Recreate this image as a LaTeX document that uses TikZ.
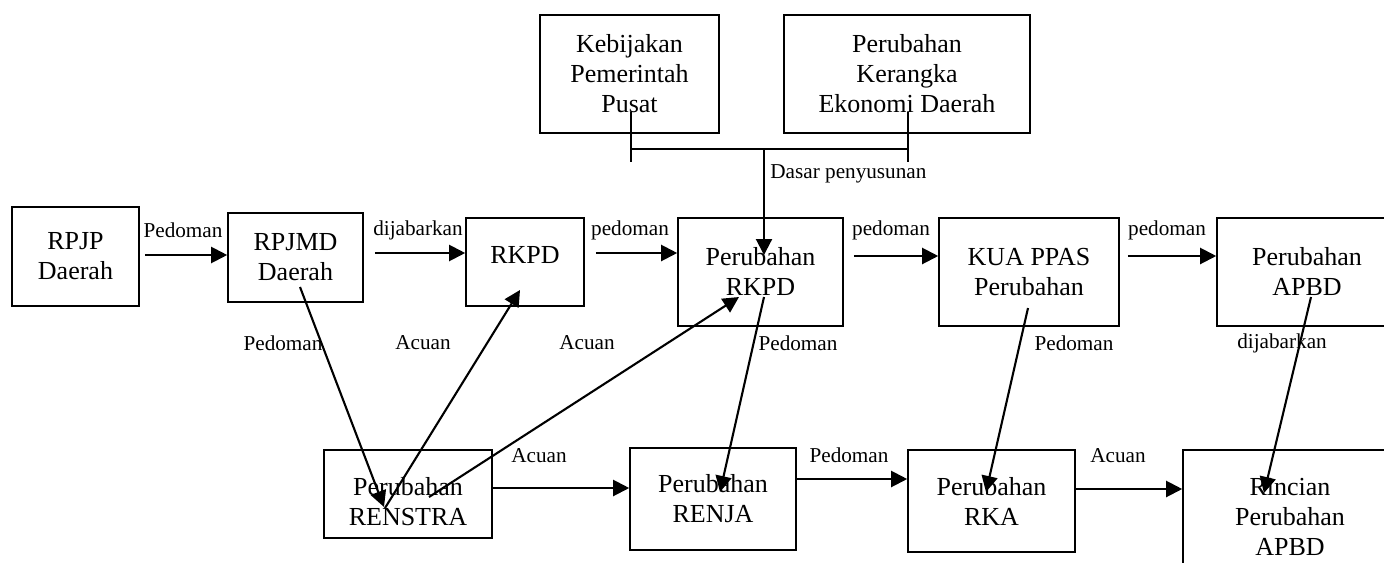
\documentclass[tikz,border=0pt]{standalone}
\usepackage{fontspec}
\setmainfont{Liberation Serif}
\usetikzlibrary{calc, positioning, arrows.meta}
\tikzset{
block/.style 2 args={draw, line width=0.8pt, minimum width=#1, minimum height=#2,
	inner sep=0pt, align=center, font=\fontsize{13}{15}\selectfont},
tag/.style={font=\fontsize{10.6}{12}\selectfont, inner sep=0pt},
flow/.style={line width=1.05pt, -{Triangle[length=8pt, width=8pt]}},
}

\begin{document}
\begin{tikzpicture}[x=0.5pt, y=-0.5pt]
\useasboundingbox (0,0) rectangle (1384,562);
\clip (0,0) rectangle (1384,562);

%Place the nodes
\node[block={89.5pt}{59pt}] (kebijakan) at (629.5,74) {Kebijakan\\Pemerintah\\Pusat};
\node[block={123pt}{59pt}] (kerangka) at (907,74) {Perubahan\\Kerangka\\Ekonomi Daerah};

\node[block={63.5pt}{49.5pt}] (rpjp) at (75.5,256.5) {RPJP\\Daerah};
\node[block={67.5pt}{44.5pt}] (rpjmd) at (295.5,257.5) {RPJMD\\Daerah};
\node[block={59pt}{44pt}, text depth=7pt] (rkpd) at (525,262) {RKPD};
\node[block={82.5pt}{54pt}] (prkpd) at (760.5,272) {Perubahan\\RKPD};
\node[block={90pt}{54pt}] (kua) at (1029,272) {KUA PPAS\\Perubahan};
\node[block={90pt}{54pt}] (apbd) at (1307,272) {Perubahan\\APBD};

\node[block={84pt}{44pt}] (renstra) at (408,494) {\rule{0pt}{17pt}Perubahan\\RENSTRA};
\node[block={83pt}{51pt}] (renja) at (713,499) {Perubahan\\RENJA};
\node[block={83.5pt}{51pt}] (rka) at (991.5,501) {Perubahan\\RKA};
\node[block={107pt}{67pt}] (rincian) at (1290,517) {Rincian\\Perubahan\\APBD};

%Dasar penyusunan
\coordinate (kj) at ($(kebijakan)+(1.5,38)$);
\coordinate (kr) at ($(kerangka)+(1,38)$);
\coordinate (dasar) at (764,149);
\draw[line width=0.65pt] (kj) -- ++(0,50);
\draw[line width=0.65pt] (kr) -- ++(0,50);
\draw[line width=0.65pt] (kj |- dasar) -- (kr |- dasar);
\draw[flow] (dasar) -- ($(prkpd)+(3.5,-17)$);
\node[tag, anchor=west] (ldasar) at (770,174) {Dasar penyusunan};

%Top row
\draw[flow, shorten <=2.5pt] (rpjp.east |- 0,255) -- (rpjmd.west |- 0,255);
\draw[flow, shorten <=5.5pt] (rpjmd.east |- 0,253) -- (rkpd.west |- 0,253);
\draw[flow, shorten <=5.5pt] (rkpd.east |- 0,253) -- (prkpd.west |- 0,253);
\draw[flow, shorten <=5pt] (prkpd.east |- 0,256) -- (kua.west |- 0,256);
\draw[flow, shorten <=4pt] (kua.east |- 0,256) -- (apbd.west |- 0,256);

\node[tag] (l1) at (183,230) {Pedoman};
\node[tag] (l2) at (418,230) {dijabarkan};
\node[tag] (l3) at (630,230) {pedoman};
\node[tag] (l4) at (891,230) {pedoman};
\node[tag] (l5) at (1167,230) {pedoman};

%Down and up
\draw[flow] ($(rpjmd)+(4.5,29.5)$) -- ($(renstra)+(-24,13)$);
\draw[flow] ($(renstra)+(-23,14)$) -- ($(rkpd)+(-5,28)$);
\draw[flow] ($(renstra)+(21,3)$) -- ($(prkpd)+(-21.5,25)$);
\draw[flow] ($(prkpd)+(3.5,25)$) -- ($(renja)+(7,-7)$);
\draw[flow] ($(kua)+(-1,36)$) -- ($(rka)+(-5.5,-9)$);
\draw[flow] ($(apbd)+(4,25)$) -- ($(rincian)+(-26,-24)$);

\node[tag] (l6) at (283,343) {Pedoman};
\node[tag] (l7) at (423,343) {Acuan};
\node[tag] (l8) at (587,343) {Acuan};
\node[tag] (l9) at (798,343) {Pedoman};
\node[tag] (l10) at (1074,343) {Pedoman};
\node[tag] (l11) at (1282,343) {dijabarkan};

%Bottom row
\draw[flow] (renstra.east |- 0,488) -- (renja.west |- 0,488);
\draw[flow] (renja.east |- 0,479) -- (rka.west |- 0,479);
\draw[flow] (rka.east |- 0,489) -- (rincian.west |- 0,489);

\node[tag] (l12) at (539,456) {Acuan};
\node[tag] (l13) at (849,455) {Pedoman};
\node[tag] (l14) at (1118,456) {Acuan};

\end{tikzpicture}
\end{document}
